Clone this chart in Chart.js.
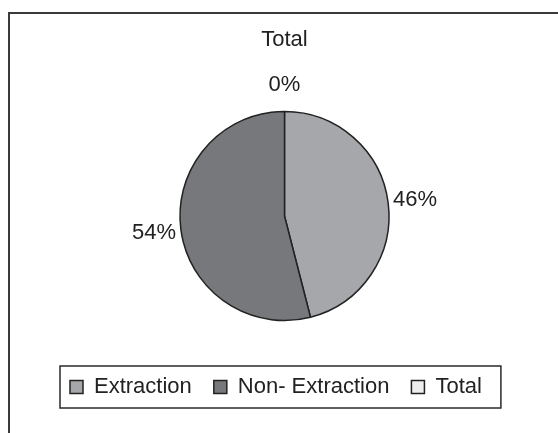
<!DOCTYPE html>
<html>
<head>
<meta charset="utf-8">
<script src="https://cdn.jsdelivr.net/npm/chart.js@4.4.1/dist/chart.umd.min.js"></script>
<style>
  html, body { margin: 0; padding: 0; background: #fff; }
  #wrap { position: relative; width: 558px; height: 433px; overflow: hidden; }
  #frame { position: absolute; left: 8px; top: 12px; width: 600px; height: 500px;
           border-top: 2px solid #3a3a3a; border-left: 2px solid #3a3a3a; }
  #chartBox { position: absolute; left: 0; top: 0; width: 558px; height: 433px; }
</style>
</head>
<body>
<div id="wrap">
  <div id="frame"></div>
  <div id="chartBox"><canvas id="myChart"></canvas></div>
</div>
<script>
document.addEventListener('DOMContentLoaded', function() {

    //chart data
    let labels = ['Extraction', 'Non- Extraction', 'Total'];
    let values = [46, 54, 0];
    let colorHex = ['#a6a7aa', '#77787b', '#eeeeee'];

    let fontFamily = '"Liberation Sans", Arial, sans-serif';

    //percent labels just outside each slice
    let pctLabels = {
        id: 'pctLabels',
        afterDatasetsDraw(chart) {
            let ctx = chart.ctx;
            let total = values.reduce((a, b) => a + b, 0);
            let meta = chart.getDatasetMeta(0);
            ctx.save();
            ctx.font = '22px ' + fontFamily;
            ctx.fillStyle = '#222';
            ctx.textAlign = 'center';
            ctx.textBaseline = 'middle';
            meta.data.forEach((arc, i) => {
                let p = arc.getProps(['x', 'y', 'startAngle', 'endAngle', 'outerRadius'], true);
                let mid = (p.startAngle + p.endAngle) / 2;
                let d = p.outerRadius + 27;
                let pct = Math.round(values[i] / total * 100) + '%';
                ctx.fillText(pct, p.x + Math.cos(mid) * d, p.y + Math.sin(mid) * d);
            });
            ctx.restore();
        }
    };

    //box around the legend
    let legendFrame = {
        id: 'legendFrame',
        afterDraw(chart) {
            let boxes = chart.legend.legendHitBoxes;
            if (!boxes || !boxes.length) return;
            let first = boxes[0];
            let last = boxes[boxes.length - 1];
            let cy = first.top + first.height / 2;
            let ctx = chart.ctx;
            ctx.save();
            ctx.strokeStyle = '#2a2a2a';
            ctx.lineWidth = 1.5;
            ctx.strokeRect(first.left - 10, cy - 21, last.left + last.width + 19 - (first.left - 10), 42);
            ctx.restore();
        }
    };

    let ctx = document.getElementById('myChart').getContext('2d');

    let myChart = new Chart(ctx, {
        type: 'pie',
        data: {
            labels: labels,
            datasets: [{
                data: values,
                backgroundColor: colorHex,
                borderColor: '#222',
                borderWidth: 1.5
            }]
        },
        options: {
            responsive: true,
            maintainAspectRatio: false,
            animation: false,
            radius: 104.5,
            layout: {
                padding: { top: 0, left: 48, right: 37, bottom: 25 }
            },
            plugins: {
                title: {
                    display: true,
                    text: 'Total',
                    color: '#222',
                    font: { family: fontFamily, size: 22, weight: 'normal' },
                    padding: { top: 27, bottom: 24.6 }
                },
                legend: {
                    position: 'bottom',
                    align: 'start',
                    labels: {
                        color: '#222',
                        boxWidth: 13,
                        boxHeight: 13,
                        padding: 22,
                        font: { family: fontFamily, size: 22 }
                    }
                },
                tooltip: { enabled: false }
            }
        },
        plugins: [pctLabels, legendFrame]
    });
});
</script>
</body>
</html>
